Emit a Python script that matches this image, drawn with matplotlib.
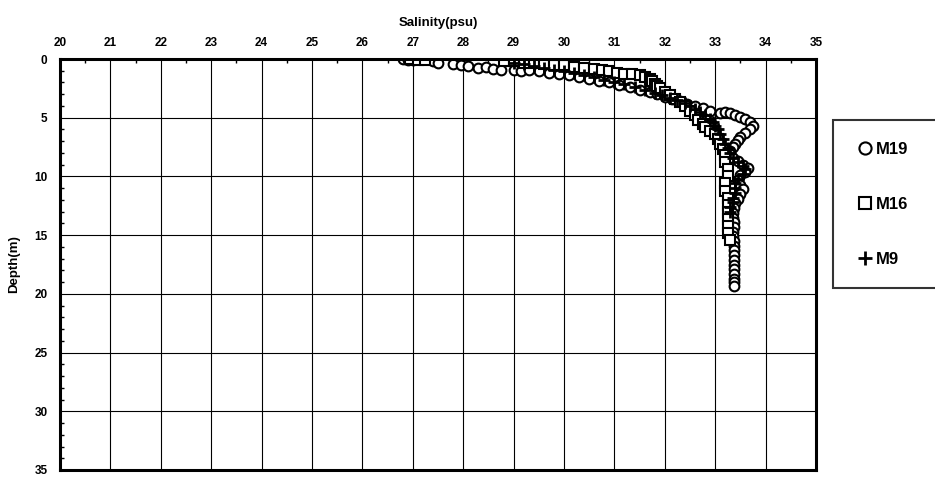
import numpy as np
import matplotlib
matplotlib.use("Agg")
import matplotlib.pyplot as plt
from matplotlib.ticker import MultipleLocator

plt.rcParams['font.family'] = ['Liberation Sans', 'DejaVu Sans']
plt.rcParams['font.weight'] = 'bold'

# station M19 (circles)
m19_sal = [26.8, 26.9, 27.0, 27.4, 27.5, 27.8, 27.95, 28.1, 28.3, 28.45, 28.6, 28.75,
           29.0, 29.15, 29.3, 29.5, 29.7, 29.9, 30.1, 30.3, 30.5, 30.7, 30.9, 31.1,
           31.3, 31.5, 31.7, 31.85, 32.0, 32.15, 32.3, 32.45, 32.6, 32.75, 32.9, 33.1,
           33.2, 33.3, 33.4, 33.5, 33.6, 33.7, 33.75, 33.7, 33.6, 33.5, 33.45, 33.4,
           33.35, 33.3, 33.3, 33.35, 33.45, 33.55, 33.65, 33.6, 33.5, 33.45, 33.5, 33.55,
           33.5, 33.45, 33.4, 33.38, 33.35, 33.35, 33.38, 33.38, 33.35, 33.35, 33.38, 33.38,
           33.38, 33.38, 33.38, 33.38, 33.38, 33.38, 33.38, 33.38, 33.38]
m19_dep = [0.0, 0.05, 0.1, 0.2, 0.3, 0.45, 0.55, 0.6, 0.75, 0.7, 0.85, 0.9,
           0.95, 1.05, 0.9, 1.0, 1.2, 1.3, 1.4, 1.5, 1.7, 1.85, 2.0, 2.2,
           2.4, 2.6, 2.8, 3.0, 3.2, 3.4, 3.6, 3.8, 4.0, 4.2, 4.4, 4.6,
           4.55, 4.6, 4.75, 4.9, 5.1, 5.4, 5.7, 6.0, 6.3, 6.6, 6.9, 7.2,
           7.5, 7.8, 8.1, 8.4, 8.7, 9.0, 9.3, 9.6, 9.9, 10.3, 10.7, 11.1,
           11.5, 11.9, 12.3, 12.7, 13.1, 13.5, 13.9, 14.3, 14.7, 15.1, 15.5, 15.9,
           16.3, 16.7, 17.1, 17.5, 17.9, 18.3, 18.7, 19.0, 19.3]

# station M16 (squares)
m16_sal = [26.95, 27.1, 27.25, 28.8, 29.0, 29.2, 29.4, 29.6, 29.8, 30.0, 30.2, 30.4,
           30.6, 30.75, 30.9, 31.05, 31.2, 31.35, 31.5, 31.6, 31.7, 31.75, 31.8, 31.85,
           31.9, 32.0, 32.1, 32.2, 32.3, 32.4, 32.5, 32.6, 32.65, 32.75, 32.8, 32.9,
           33.0, 33.05, 33.1, 33.15, 33.2, 33.2, 33.25, 33.25, 33.2, 33.2, 33.25, 33.25,
           33.25, 33.25, 33.25, 33.25, 33.3]
m16_dep = [0.0, 0.05, 0.1, 0.15, 0.2, 0.3, 0.35, 0.45, 0.5, 0.55, 0.65, 0.75,
           0.85, 0.95, 1.05, 1.15, 1.25, 1.3, 1.4, 1.55, 1.7, 1.9, 2.1, 2.3,
           2.5, 2.8, 3.1, 3.4, 3.7, 4.0, 4.4, 4.8, 5.2, 5.5, 5.8, 6.1,
           6.4, 6.8, 7.2, 7.7, 8.2, 8.8, 9.4, 10.0, 10.6, 11.2, 11.8, 12.4,
           13.0, 13.6, 14.2, 14.8, 15.4]

# station M9 (plus)
m9_sal = [29.0, 29.2, 29.4, 29.6, 29.8, 30.0, 30.2, 30.4, 30.6, 30.8, 31.0, 31.2,
          31.4, 31.6, 31.8, 31.95, 32.1, 32.25, 32.4, 32.5, 32.6, 32.7, 32.8, 32.9,
          32.95, 33.0, 33.05, 33.1, 33.15, 33.2, 33.25, 33.3, 33.35, 33.45, 33.55, 33.6,
          33.55, 33.45, 33.4, 33.4, 33.4, 33.35, 33.35, 33.3, 33.3]
m9_dep = [0.3, 0.45, 0.6, 0.75, 0.9, 1.05, 1.2, 1.35, 1.55, 1.75, 1.95, 2.15,
          2.4, 2.65, 2.9, 3.1, 3.3, 3.5, 3.75, 4.0, 4.25, 4.5, 4.8, 5.1,
          5.4, 5.7, 6.0, 6.4, 6.8, 7.2, 7.6, 8.0, 8.4, 8.8, 9.1, 9.4,
          9.8, 10.2, 10.6, 11.0, 11.4, 11.8, 12.2, 12.6, 13.0]

fig = plt.figure(figsize=(9.35, 4.79), dpi=100)
ax = fig.add_axes([60/935, 1 - 470/479, (816-60)/935, (470-59)/479])

ax.plot(m19_sal, m19_dep, 'o', ms=7, mfc='white', mec='black', mew=1.5,
        label='M19', linestyle='none')
ax.plot(m16_sal, m16_dep, 's', ms=7, mfc='white', mec='black', mew=1.5,
        label='M16', linestyle='none')
ax.plot(m9_sal, m9_dep, '+', ms=8.5, mec='black', mew=2,
        label='M9', linestyle='none')

ax.set_xlim(20, 35)
ax.set_ylim(35, 0)
ax.xaxis.set_major_locator(MultipleLocator(1))
ax.xaxis.set_minor_locator(MultipleLocator(0.5))
ax.yaxis.set_major_locator(MultipleLocator(5))
ax.yaxis.set_minor_locator(MultipleLocator(1))
ax.xaxis.tick_top()
ax.xaxis.set_label_position('top')
ax.tick_params(which='major', length=0, labelsize=8.5, pad=9)
ax.tick_params(axis='x', which='major', pad=7)
ax.tick_params(which='minor', direction='in', length=3, width=1)
ax.tick_params(axis='x', which='minor', top=True, bottom=False)
ax.grid(True, which='major', color='black', lw=0.8)
for s in ax.spines.values():
    s.set_linewidth(2.2)

ax.set_xlabel('Salinity(psu)', fontsize=9.5, fontweight='bold', labelpad=8)
ax.set_ylabel('Depth(m)', fontsize=9.5, fontweight='bold', labelpad=10)

leg = fig.legend(loc='upper left', bbox_to_anchor=(833/935, 1 - 293/479, 0.12, 173/479),
                 mode='expand', frameon=True, fancybox=False, edgecolor='black',
                 prop={'weight': 'bold', 'size': 12}, markerscale=1.25,
                 labelspacing=2.4, borderpad=1.3, handletextpad=0.1,
                 handlelength=1.2, borderaxespad=0)
leg.get_frame().set_linewidth(1.5)

fig.savefig('out.png', dpi=100)
